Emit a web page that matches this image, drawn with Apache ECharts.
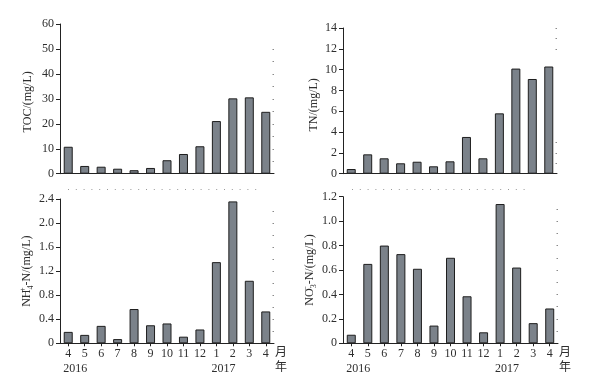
<!DOCTYPE html>
<html><head><meta charset="utf-8">
<script src="https://cdn.jsdelivr.net/npm/echarts@6/dist/echarts.min.js"></script>
<style>html,body{margin:0;padding:0;background:#fff}#c{width:591px;height:382px}</style>
</head><body><div id="c"></div>
<script>
const months = ['4','5','6','7','8','9','10','11','12','1','2','3','4'];
const years = ['2016','','','','','','','','','2017','','',''];
const toc = [10.8, 3.1, 2.8, 2.0, 1.4, 2.3, 5.4, 7.9, 11.0, 21.1, 30.2, 30.6, 24.8];
const tn = [0.45, 1.86, 1.48, 1.0, 1.15, 0.71, 1.19, 3.53, 1.48, 5.8, 10.1, 9.1, 10.3];
const nh4 = [0.19, 0.14, 0.29, 0.07, 0.57, 0.30, 0.33, 0.11, 0.23, 1.35, 2.36, 1.04, 0.53];
const no3 = [0.07, 0.65, 0.80, 0.73, 0.61, 0.145, 0.70, 0.385, 0.09, 1.14, 0.62, 0.165, 0.285];
const tocTicks = [0, 10, 20, 30, 40, 50, 60];
const tnTicks = [0, 2, 4, 6, 8, 10, 12, 14];
const nh4Ticks = [0, 0.4, 0.8, 1.2, 1.6, 2.0, 2.4];
const no3Ticks = [0, 0.2, 0.4, 0.6, 0.8, 1.0, 1.2];
const tocFaint = [5, 10, 15, 20, 25, 30, 35, 40, 45, 50];
const tnFaint = [1, 2, 3, 12, 13, 14];
const nh4Faint = [0.2, 0.4, 0.6, 0.8, 1.0, 1.2, 1.4, 1.6, 1.8, 2.0, 2.2];
const no3Faint = [0.1, 0.2, 0.3, 0.4, 0.5, 0.6, 0.7, 0.8, 0.9, 1.0, 1.1];

const FONT = "'Liberation Serif','Noto Sans CJK SC',serif";
const TXT = '#2e2e2e';
const LINE = '#222';

const chart = echarts.init(document.getElementById('c'), null, {renderer: 'canvas'});

const grids = [
  {left: 60, top: 24, width: 214, height: 149.7},
  {left: 343, top: 28, width: 214, height: 145.7},
  {left: 60, top: 199, width: 214, height: 144.3},
  {left: 343, top: 196.7, width: 215, height: 146.6}
];

function xAx(gi, bottom) {
  return {
    type: 'category', gridIndex: gi, data: months,
    axisLine: {lineStyle: {color: LINE, width: 1}},
    axisTick: {show: bottom, alignWithLabel: true, length: 3, lineStyle: {color: LINE}},
    axisLabel: {
      show: bottom, interval: 0, margin: 3, color: TXT, fontFamily: FONT, fontSize: 12, lineHeight: 15,
      formatter: (v, i) => years[i] ? v + '\n{yr|' + years[i] + '}' : v,
      rich: {yr: {fontFamily: FONT, fontSize: 12, lineHeight: 15, color: TXT, padding: [0, 0, 0, 14]}}
    },
    name: bottom ? '月\n年' : '', nameLocation: 'end', nameGap: 1,
    nameTextStyle: {fontFamily: FONT, fontSize: 12, lineHeight: 15, color: TXT, verticalAlign: 'top', align: 'left', padding: [2, 0, 0, 0]}
  };
}
function yAx(gi, ticks, name, gap, pad) {
  return {
    type: 'value', gridIndex: gi, min: ticks[0], max: ticks[ticks.length - 1],
    interval: ticks[1] - ticks[0],
    axisLine: {show: true, lineStyle: {color: LINE, width: 1}},
    axisTick: {show: true, length: 4, lineStyle: {color: LINE}},
    splitLine: {show: false},
    axisLabel: {margin: 6, color: TXT, fontFamily: FONT, fontSize: 12,
      formatter: v => {
        if (v === 0) return '0';
        const t = ticks.find(x => Math.abs(x - v) < 1e-9);
        const dec = String(ticks[1]).includes('.') ? 1 : 0;
        return (t !== undefined ? t : v).toFixed(dec);
      }},
    name: name, nameLocation: 'middle', nameGap: gap,
    nameTextStyle: {fontFamily: FONT, fontSize: 12, color: TXT, padding: pad,
      rich: {
        sub: {fontFamily: FONT, fontSize: 8, color: TXT, verticalAlign: 'bottom', lineHeight: 16},
        sup: {fontFamily: FONT, fontSize: 8, color: TXT, verticalAlign: 'top', lineHeight: 16, width: 0, align: 'left'},
        n: {fontFamily: FONT, fontSize: 12, color: TXT, lineHeight: 16}
      }}
  };
}
function faintAx(gi, ticks, faint) {
  return {
    type: 'value', gridIndex: gi, position: 'right', min: ticks[0], max: ticks[ticks.length - 1],
    axisLine: {show: false}, axisLabel: {show: false}, splitLine: {show: false},
    axisTick: {show: true, inside: true, length: 1.5, customValues: faint, lineStyle: {color: '#8a8a8a'}}
  };
}
function bar(gi, yi, data) {
  return {
    type: 'bar', xAxisIndex: gi, yAxisIndex: yi, data: data, barWidth: 9,
    itemStyle: {color: '#7b828a', borderColor: '#1e1e1e', borderWidth: 1},
    silent: true, animation: false
  };
}

chart.setOption({
  animation: false,
  backgroundColor: '#fff',
  grid: grids,
  xAxis: [xAx(0, false), xAx(1, false), xAx(2, true), xAx(3, true)],
  yAxis: [
    yAx(0, tocTicks, 'TOC/(mg/L)', 26, [0, 6, 0, 0]),
    yAx(1, tnTicks, 'TN/(mg/L)', 23, [0, 8, 0, 0]),
    yAx(2, nh4Ticks, '{n|NH}{sup|+}{sub|4}{n|-N/(mg/L)}', 24, [0, 0, 0, 0]),
    yAx(3, no3Ticks, '{n|NO}{sup|−}{sub|3}{n|-N/(mg/L)}', 25, [0, 0, 0, 0]),
    faintAx(0, tocTicks, tocFaint),
    faintAx(1, tnTicks, tnFaint),
    faintAx(2, nh4Ticks, nh4Faint),
    faintAx(3, no3Ticks, no3Faint)
  ],
  series: [bar(0, 0, toc), bar(1, 1, tn), bar(2, 2, nh4), bar(3, 3, no3)],
  graphic: [
    {type: 'line', silent: true, shape: {x1: 68, y1: 189.5, x2: 263, y2: 189.5},
      style: {stroke: '#9a9a9a', lineWidth: 1, lineDash: [1, 6.8]}},
    {type: 'line', silent: true, shape: {x1: 352, y1: 189.5, x2: 528, y2: 189.5},
      style: {stroke: '#9a9a9a', lineWidth: 1, lineDash: [1, 6.8]}}
  ]
});
</script>
</body></html>
